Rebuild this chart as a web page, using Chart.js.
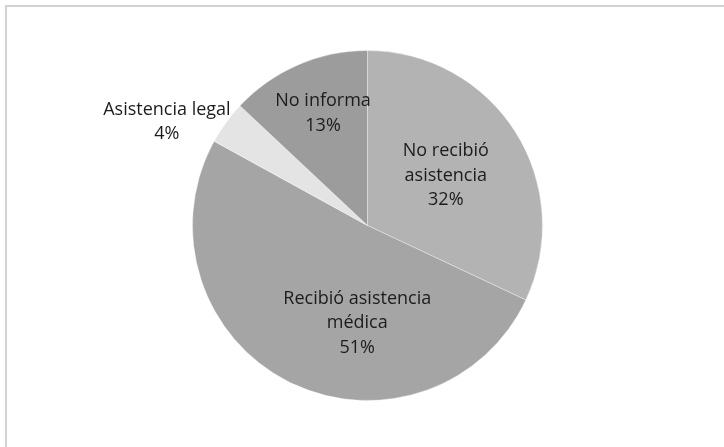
<!DOCTYPE html>
<html>
<head>
<meta charset="utf-8">
<script src="https://cdn.jsdelivr.net/npm/chart.js@4"></script>
<style>
  html, body { margin: 0; padding: 0; background: #fff; }
  #wrap { position: relative; width: 724px; height: 447px; }
  #frame {
    position: absolute; left: 5px; top: 5px; right: 0; bottom: 0;
    border-left: 2px solid #d2d2d2; border-top: 2px solid #d2d2d2;
  }
</style>
</head>
<body>
<div id="wrap">
  <div id="frame"></div>
  <canvas id="chartCanvas" width="724" height="447"></canvas>
</div>
<script>
const categories = [
  ['No recibió', 'asistencia'],
  ['Recibió asistencia', 'médica'],
  ['Asistencia legal'],
  ['No informa']
];
const percents = [32, 51, 4, 13];
const sliceColors = ['#b3b3b3', '#a5a5a5', '#e4e4e4', '#9c9c9c'];

// where each label sits: fraction of the radius, and angle shift from the slice middle (degrees)
const labelRadius = [0.53, 0.56, 1.29, 0.69];
const labelShift = [0, -21, -8.7, 1.8];

const pieLabels = {
  id: 'pieLabels',
  afterDatasetsDraw(chart) {
    const ctx = chart.ctx;
    const meta = chart.getDatasetMeta(0);
    ctx.save();
    ctx.font = '18px "Open Sans", sans-serif';
    ctx.fillStyle = '#1c1c1c';
    ctx.textAlign = 'center';
    ctx.textBaseline = 'middle';
    meta.data.forEach((arc, i) => {
      const p = arc.getProps(['x', 'y', 'startAngle', 'endAngle', 'outerRadius'], true);
      const mid = (p.startAngle + p.endAngle) / 2 + labelShift[i] * Math.PI / 180;
      const r = p.outerRadius * labelRadius[i];
      const cx = p.x + Math.cos(mid) * r;
      const cy = p.y + Math.sin(mid) * r;
      const lines = categories[i].concat([percents[i] + '%']);
      const lh = 24.5;
      const top = cy - (lines.length - 1) * lh / 2;
      lines.forEach((t, j) => ctx.fillText(t, cx, top + j * lh));
    });
    ctx.restore();
  }
};

const ctx = document.getElementById('chartCanvas').getContext('2d');
new Chart(ctx, {
  type: 'pie',
  data: {
    labels: categories.map(c => c.join(' ')),
    datasets: [{
      data: percents,
      backgroundColor: sliceColors,
      borderColor: 'rgba(255,255,255,0.35)',
      borderWidth: 1
    }]
  },
  options: {
    responsive: false,
    animation: false,
    layout: { padding: { left: 192, right: 181, top: 50, bottom: 46 } },
    plugins: {
      legend: { display: false },
      tooltip: { enabled: false }
    }
  },
  plugins: [pieLabels]
});
</script>
</body>
</html>
